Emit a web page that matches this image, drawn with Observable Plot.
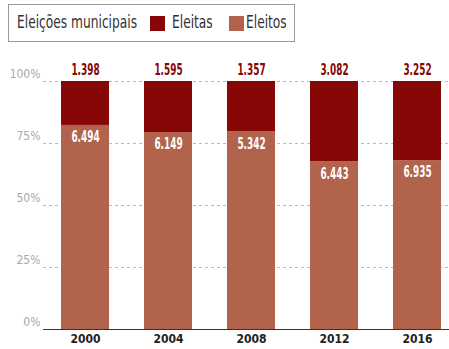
<!DOCTYPE html>
<html>
<head>
<meta charset="utf-8">
<script src="https://cdn.jsdelivr.net/npm/d3@7"></script>
<script src="https://cdn.jsdelivr.net/npm/@observablehq/plot@0.6"></script>
<style>
  html, body { margin: 0; padding: 0; background: #fff; }
  body { width: 449px; height: 349px; overflow: hidden; font-family: "DejaVu Sans", sans-serif; font-stretch: condensed; }
  svg text { font-stretch: condensed; }
  #legend { position: relative; height: 50px; }
  #legend .box { position: absolute; left: 8px; top: 4px; width: 285px; height: 36px; border: 1.5px solid #9a9a9a; box-sizing: content-box; }
  #legend span { position: absolute; top: 12px; font-size: 17px; color: #333; line-height: 20px; transform: scaleX(0.8); transform-origin: 0 0; white-space: nowrap; }
  #legend i { position: absolute; top: 16px; width: 15px; height: 15px; }
</style>
</head>
<body>
<div id="legend"></div>
<div id="chart"></div>
<script>
const years = ["2000", "2004", "2008", "2012", "2016"];
const eleitas = [1398, 1595, 1357, 3082, 3252];
const eleitos = [6494, 6149, 5342, 6443, 6935];
const series = ["Eleitos", "Eleitas"];
const colors = ["#b1634c", "#870606"];
const legendTitle = "Eleições municipais";
const yTicks = [0, 0.25, 0.5, 0.75, 1];

const fmt = d3.formatLocale({decimal: ",", thousands: ".", grouping: [3], currency: ["", ""]}).format(",d");

// legend
const legendEl = document.getElementById("legend");
legendEl.innerHTML = `<div class="box"></div>
<span style="left:17px">${legendTitle}</span>
<i style="left:150px;background:${colors[1]}"></i>
<span style="left:172px">${series[1]}</span>
<i style="left:229px;background:${colors[0]}"></i>
<span style="left:246px">${series[0]}</span>`;

const rows = [];
years.forEach((y, i) => {
  rows.push({year: y, serie: "Eleitos", value: eleitos[i]});
  rows.push({year: y, serie: "Eleitas", value: eleitas[i]});
});
const innerLabels = years.map((y, i) => ({year: y, frac: eleitos[i] / (eleitos[i] + eleitas[i]), label: fmt(eleitos[i])}));
const topLabels = years.map((y, i) => ({year: y, label: fmt(eleitas[i])}));

const chart = Plot.plot({
  width: 449,
  height: 299,
  marginLeft: 43,
  marginRight: 0,
  marginTop: 31,
  marginBottom: 20,
  style: {fontFamily: "'DejaVu Sans', sans-serif", background: "#fff"},
  x: {domain: years, paddingInner: 0.418, paddingOuter: 0.1435, align: 0.7, label: null},
  y: {domain: [0, 1], label: null},
  color: {domain: series, range: colors},
  marks: [
    Plot.ruleY(yTicks.slice(1), {stroke: "#b8b8b8", strokeDasharray: "3,3", strokeWidth: 1}),
    Plot.barY(rows, Plot.stackY({x: "year", y: "value", fill: "serie", offset: "normalize", order: series})),
    Plot.ruleY([0], {stroke: "#333", strokeWidth: 1}),
    Plot.text(topLabels, {x: "year", y: 1, text: "label", dy: -11, fill: "#870606", fontSize: 15, fontWeight: "bold", className: "vlab"}),
    Plot.text(innerLabels, {x: "year", y: "frac", text: "label", dy: 12, fill: "#fff", fontSize: 15, fontWeight: "bold", className: "vlab"}),
    Plot.axisY({ticks: yTicks, tickFormat: d => Math.round(d * 100) + "%", tickSize: 0, tickPadding: 3, dy: -7, fill: "#a8a8a8", fontSize: 12, label: null}),
    Plot.axisX({tickSize: 0, tickPadding: 5, fontSize: 12, fontWeight: "bold", fill: "#222", label: null})
  ]
});
document.getElementById("chart").appendChild(chart);
// narrow the value labels to mimic the condensed typeface
chart.querySelectorAll(".vlab text").forEach(t => {
  const w = t.getComputedTextLength();
  t.setAttribute("textLength", (w * 0.66).toFixed(1));
  t.setAttribute("lengthAdjust", "spacingAndGlyphs");
});
</script>
</body>
</html>
